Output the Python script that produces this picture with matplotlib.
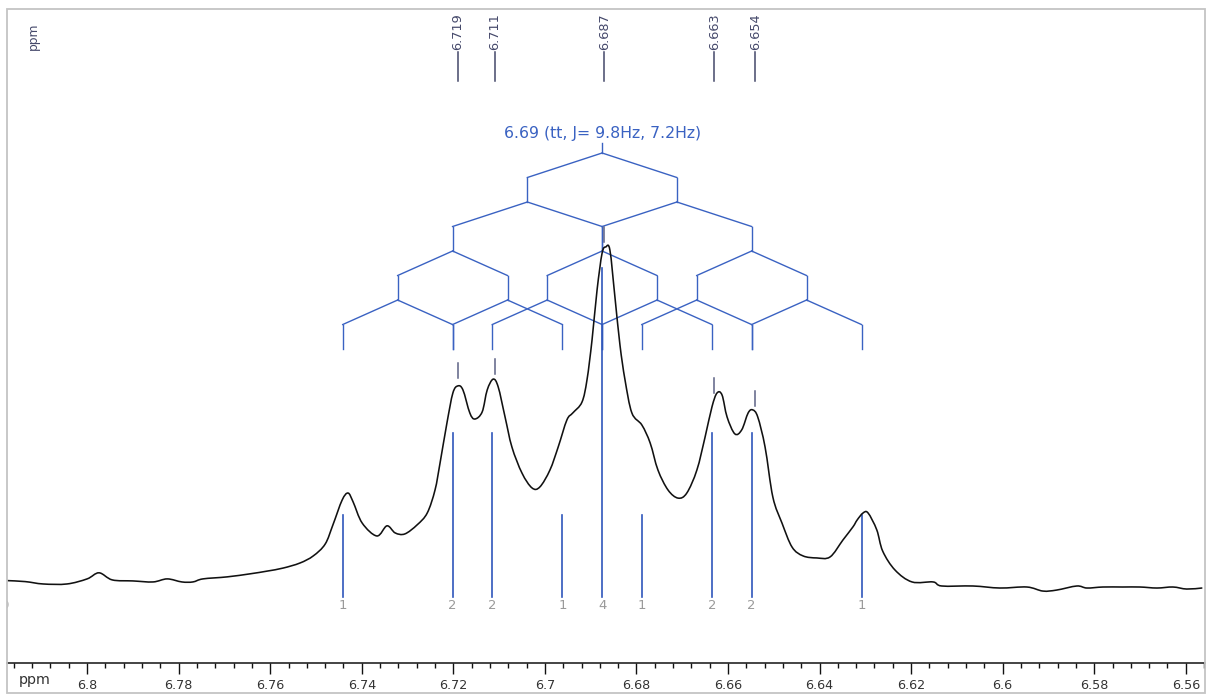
import numpy as np
import matplotlib
matplotlib.use("Agg")
import matplotlib.pyplot as plt
from matplotlib.patches import Rectangle, PathPatch
from matplotlib.path import Path
from matplotlib.ticker import MultipleLocator, FuncFormatter

# ---- spectrum trace (chemical shift in ppm, relative intensity) ----
ppm = [
    6.8175, 6.8135, 6.8096, 6.8044, 6.8000, 6.7974, 6.7945, 6.7900, 6.7856, 6.7825,
    6.7793, 6.7769, 6.7747, 6.7694, 6.7644, 6.7607, 6.7572, 6.7535, 6.7506, 6.7480,
    6.7463, 6.7443, 6.7430, 6.7419, 6.7399, 6.7367, 6.7345, 6.7327, 6.7306, 6.7279,
    6.7257, 6.7240, 6.7229, 6.7214, 6.7201, 6.7190, 6.7179, 6.7164, 6.7153, 6.7137,
    6.7126, 6.7113, 6.7102, 6.7087, 6.7072, 6.7050, 6.7028, 6.7011, 6.6989, 6.6971,
    6.6952, 6.6939, 6.6919, 6.6908, 6.6897, 6.6886, 6.6875, 6.6867, 6.6858, 6.6847,
    6.6836, 6.6825, 6.6810, 6.6788, 6.6770, 6.6753, 6.6731, 6.6709, 6.6690, 6.6668,
    6.6650, 6.6635, 6.6624, 6.6613, 6.6602, 6.6585, 6.6570, 6.6556, 6.6546, 6.6535,
    6.6519, 6.6502, 6.6482, 6.6460, 6.6436, 6.6406, 6.6377, 6.6349, 6.6327, 6.6318,
    6.6305, 6.6294, 6.6275, 6.6262, 6.6235, 6.6198, 6.6152, 6.6133, 6.6065, 6.6006,
    6.5947, 6.5912, 6.5882, 6.5838, 6.5816, 6.5781, 6.5738, 6.5700, 6.5663, 6.5628,
    6.5598, 6.5565,
]
intensity = [
    1.3, 1.0, 0.3, 0.3, 1.8, 3.6, 1.5, 1.2, 0.9, 1.8,
    0.9, 0.9, 1.8, 2.4, 3.3, 4.1, 5.0, 6.5, 8.6, 12.1,
    17.8, 25.1, 27.2, 24.6, 18.3, 14.5, 17.5, 15.4, 15.1, 17.8,
    21.3, 28.1, 36.1, 47.9, 56.8, 58.9, 57.7, 50.9, 49.1, 51.2,
    57.7, 60.9, 58.6, 49.7, 40.8, 33.1, 28.7, 29.0, 34.0, 40.8,
    48.8, 50.9, 54.1, 60.7, 72.5, 87.3, 98.2, 100.0, 99.1, 85.2,
    71.0, 60.7, 50.9, 47.3, 42.0, 34.0, 28.1, 25.7, 27.2, 34.0,
    43.8, 52.7, 56.8, 56.2, 49.7, 44.7, 45.9, 50.9, 51.8, 49.7,
    40.8, 26.0, 18.3, 11.2, 8.6, 8.0, 8.3, 13.3, 17.2, 19.2,
    21.3, 21.3, 16.3, 10.0, 4.4, 0.9, 0.9, -0.3, -0.3, -0.9,
    -0.6, -1.8, -1.5, -0.3, -0.9, -0.6, -0.6, -0.6, -0.9, -0.6,
    -1.2, -0.9,
]

# ---- peak picking ----
peak_labels = [6.719, 6.711, 6.687, 6.663, 6.654]

# ---- multiplet analysis ----
mult_center = 6.6875
mult_label = "6.69 (tt, J= 9.8Hz, 7.2Hz)"
couplings_hz = [9.8, 7.2]
spectrometer_mhz = 300.0

# ---- axis ticks ----
major_step = 0.02
minor_step = 0.004
x_left, x_right = 6.8175, 6.5558
y_bottom, y_top = -23.08, 170.4

BLUE = "#3a62c2"
STICK = "#2f56bb"
DARK = "#44486a"
MARK = "#5d6285"
GREY = "#9a9a9a"


def smooth_path(xs, ys):
    """Catmull-Rom curve through every point, expressed as cubic Bezier segments."""
    pts = np.column_stack([xs, ys]).astype(float)
    n = len(pts)
    verts = [pts[0]]
    codes = [Path.MOVETO]
    for i in range(n - 1):
        p0 = pts[max(i - 1, 0)]
        p1 = pts[i]
        p2 = pts[i + 1]
        p3 = pts[min(i + 2, n - 1)]
        c1 = p1 + (p2 - p0) / 6.0
        c2 = p2 - (p3 - p1) / 6.0
        verts += [c1, c2, p2]
        codes += [Path.CURVE4] * 3
    return Path(verts, codes)


W, H = 1211, 695
fig = plt.figure(figsize=(W / 100, H / 100), dpi=100)
ax = fig.add_axes([7 / W, (H - 663) / H, 1198 / W, 654 / H])
ax.set_xlim(x_left, x_right)
ax.set_ylim(y_bottom, y_top)

# spectrum
ax.add_patch(PathPatch(smooth_path(ppm, intensity), fill=False,
                       edgecolor="#111111", lw=1.15, zorder=4,
                       joinstyle="round", capstyle="round"))

# splitting tree (each triplet drawn as two successive doublet splits)
tree_top = 127.8
step = 7.25
nodes = [mult_center]
y = tree_top
ax.plot([mult_center, mult_center], [tree_top, tree_top + 3.0], color=BLUE, lw=1.0)
for j_hz in couplings_hz:
    half = j_hz / spectrometer_mhz / 2.0
    for _ in range(2):
        children = []
        for xp in nodes:
            for s in (-1, 1):
                xc = xp + s * half
                ax.plot([xp, xc], [y, y - step], color=BLUE, lw=1.0, zorder=3)
                ax.plot([xc, xc], [y - step, y - 2 * step], color=BLUE, lw=1.0, zorder=3)
                children.append(round(xc, 6))
        nodes = sorted(set(children), reverse=True)
        y -= 2 * step
ax.text(mult_center, tree_top + 5.9, mult_label, color=BLUE, fontsize=11.3,
        ha="center", va="center")

# line positions and relative intensities of the two triplets
j1 = couplings_hz[0] / spectrometer_mhz
j2 = couplings_hz[1] / spectrometer_mhz
stick_pos, stick_int = [], []
for a, wa in ((1, 1), (0, 2), (-1, 1)):
    for b, wb in ((1, 1), (0, 2), (-1, 1)):
        stick_pos.append(mult_center + a * j1 + b * j2)
        stick_int.append(wa * wb)
stick_base = -3.55
stick_unit = 24.3
for xp, h in zip(stick_pos, stick_int):
    ax.plot([xp, xp], [stick_base, stick_base + h * stick_unit], color=STICK,
            lw=1.2, zorder=3)
    ax.text(xp, stick_base - 0.6, str(h), color=GREY, fontsize=9.5,
            ha="center", va="top")
ax.text(6.8181, stick_base - 0.6, "0", color=GREY, fontsize=9.5,
        ha="center", va="top", clip_on=True)

# peak labels along the top and short marks above each picked peak
asc_ppm = ppm[::-1]
asc_int = intensity[::-1]
for p in peak_labels:
    ax.plot([p, p], [149.1, 157.7], color=DARK, lw=1.1)
    ax.text(p, 158.3, f"{p:.3f}", rotation=90, color=DARK, fontsize=9.3,
            ha="center", va="bottom")
    apex = np.interp(p, asc_ppm, asc_int)
    ax.plot([p, p], [apex + 2.2, apex + 6.7], color=MARK, lw=1.1, zorder=5)

# axis styling
for side in ("top", "left", "right"):
    ax.spines[side].set_visible(False)
ax.spines["bottom"].set_color("#111111")
ax.spines["bottom"].set_linewidth(1.1)
ax.set_yticks([])
ax.xaxis.set_major_locator(MultipleLocator(major_step))
ax.xaxis.set_minor_locator(MultipleLocator(minor_step))
ax.xaxis.set_major_formatter(FuncFormatter(lambda v, _: f"{round(v, 2):g}"))
ax.tick_params(axis="x", which="major", direction="out", length=8, width=1.0,
               pad=3.5, labelsize=9.2, colors="#111111", labelcolor="#333333")
ax.tick_params(axis="x", which="minor", direction="out", length=3.8, width=1.0,
               colors="#111111")

fig.text(35 / W, 1 - 680 / H, "ppm", fontsize=10.3, color="#333333",
         ha="center", va="center")
fig.text(33 / W, 1 - 36 / H, "ppm", fontsize=8.8, color=DARK, rotation=90,
         ha="center", va="center")

# outer frame
fig.patches.append(Rectangle((7 / W, 2 / H), 1198 / W, 684 / H,
                             transform=fig.transFigure, fill=False,
                             edgecolor="#c4c4c4", lw=1.3))

fig.savefig("out.png", dpi=100)
